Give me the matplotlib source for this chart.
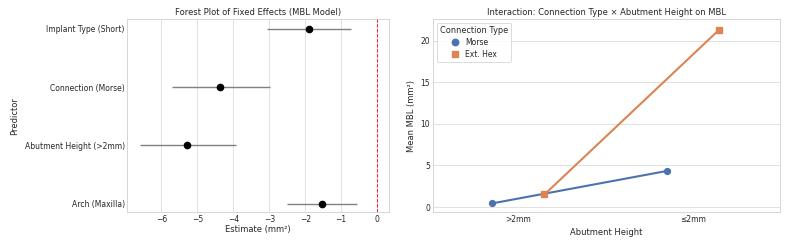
import numpy as np
import matplotlib
matplotlib.use("Agg")
import matplotlib.pyplot as plt
import seaborn as sns

# Forest plot data (fixed effects)
predictors = ["Implant Type (Short)", "Connection (Morse)",
              "Abutment Height (>2mm)", "Arch (Maxilla)"]
estimates = [-1.89, -4.36, -5.28, -1.54]
ci_low = [-3.05, -5.72, -6.60, -2.52]
ci_high = [-0.73, -2.97, -3.93, -0.55]

# Interaction data
heights = [">2mm", "≤2mm"]
morse_mean = [0.44, 4.33]
exthex_mean = [1.51, 21.27]

sns.set_theme(style="whitegrid")
plt.rcParams["font.family"] = ["DejaVu Sans"]
fs_tick = 5.5
fs_label = 6.0
fs_title = 6.0

fig = plt.figure(figsize=(7.87, 2.46), dpi=100)
ax1 = fig.add_axes([0.162, 0.137, 0.332, 0.786])
ax2 = fig.add_axes([0.550, 0.137, 0.441, 0.786])

# Forest plot
ypos = np.arange(len(predictors))
est = np.array(estimates)
xerr = [est - np.array(ci_low), np.array(ci_high) - est]
ax1.errorbar(est, ypos, xerr=xerr, fmt="o", color="black", ecolor="gray",
             elinewidth=1.0, markersize=4.5, capsize=0)
ax1.axvline(0, color="#e8302a", linestyle="--", linewidth=0.8, dashes=(3, 1.5))
ax1.set_yticks(ypos)
ax1.set_yticklabels(predictors)
ax1.set_ylim(3.15, -0.17)
ax1.set_xlim(-6.945, 0.325)
ax1.set_xticks([-6, -5, -4, -3, -2, -1, 0])
ax1.grid(False, axis="y")
ax1.grid(True, axis="x", linewidth=0.6, color="#dddddd")
ax1.set_title("Forest Plot of Fixed Effects (MBL Model)", fontsize=fs_title, pad=3)
ax1.set_xlabel("Estimate (mm²)", fontsize=fs_label, labelpad=1)
ax1.set_ylabel("Predictor", fontsize=fs_label, labelpad=4)

# Interaction plot (dodged point plot)
xpos = np.arange(len(heights))
d = 0.15
ax2.plot(xpos - d, morse_mean, color="#4c72b0", marker="o", markersize=4.2,
         linewidth=1.5, label="Morse")
ax2.plot(xpos + d, exthex_mean, color="#dd8452", marker="s", markersize=4.0,
         linewidth=1.5, label="Ext. Hex")
ax2.set_xticks(xpos)
ax2.set_xticklabels(heights)
ax2.set_xlim(-0.49, 1.5)
ax2.set_ylim(-0.63, 22.6)
ax2.grid(False, axis="x")
ax2.grid(True, axis="y", linewidth=0.6, color="#dddddd")
ax2.set_title("Interaction: Connection Type × Abutment Height on MBL",
              fontsize=fs_title, pad=3)
ax2.set_xlabel("Abutment Height", fontsize=fs_label, labelpad=3)
ax2.set_ylabel("Mean MBL (mm²)", fontsize=fs_label, labelpad=3)
leg = ax2.legend(title="Connection Type", loc="upper left", fontsize=fs_tick,
                 title_fontsize=5.9, handlelength=1.2, borderpad=0.4,
                 labelspacing=0.4, markerscale=1.1)
for h in leg.legend_handles:
    h.set_linestyle("")
leg.get_frame().set_linewidth(0.6)

for ax in (ax1, ax2):
    ax.tick_params(labelsize=fs_tick, pad=2, length=0)
    for s in ax.spines.values():
        s.set_linewidth(0.6)
        s.set_color("#d0d0d0")

fig.savefig("out.png", dpi=100)
